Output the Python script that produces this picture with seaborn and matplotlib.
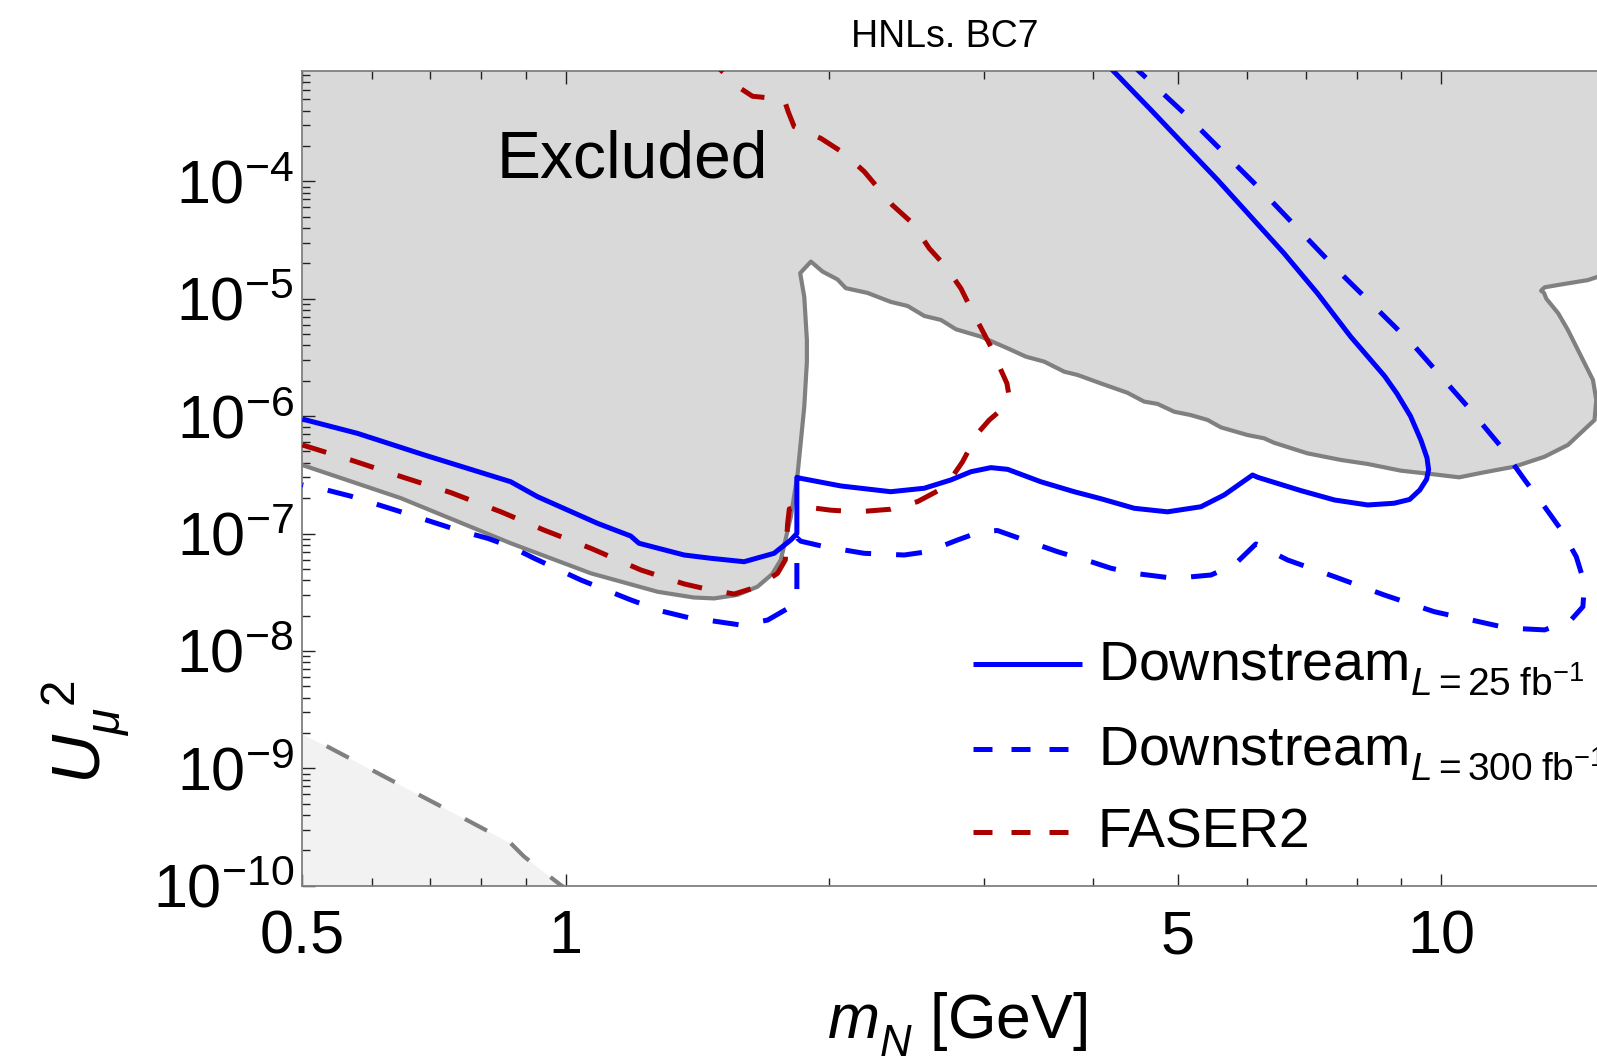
import numpy as np
import pandas as pd
import matplotlib
matplotlib.use("Agg")
import matplotlib.pyplot as plt
import seaborn as sns
from matplotlib.lines import Line2D
from matplotlib.ticker import FixedLocator, FixedFormatter, NullFormatter

# ---------------- data ----------------
# boundary of the excluded (grey) region
excl_x = [0.5, 0.648, 0.865, 1.068, 1.273, 1.40, 1.477, 1.57, 1.655, 1.72, 1.76, 1.807, 1.84,
          1.872, 1.885, 1.885, 1.872, 1.852, 1.905, 1.965, 2.043, 2.088, 2.211, 2.35, 2.457,
          2.567, 2.682, 2.79, 2.979, 3.196, 3.353, 3.519, 3.709, 3.842, 4.083, 4.38, 4.576,
          4.741, 4.953, 5.175, 5.41, 5.60, 6.005, 6.275, 6.44, 7.03, 7.68, 8.24, 8.99, 9.81,
          10.48, 11.19, 12.12, 13.12, 13.95, 14.96, 15.03, 14.9, 13.95, 13.6, 13.18, 13.1,
          13.0, 13.12, 13.6, 14.7, 15.1, 20.0]
excl_y = [3.83e-7, 2.0e-7, 8.26e-8, 4.58e-8, 3.19e-8, 2.85e-8, 2.8e-8, 3.0e-8, 3.52e-8,
          4.5e-8, 5.95e-8, 1.39e-7, 3.26e-7, 1.2e-6, 2.9e-6, 4.45e-6, 1.04e-5, 1.65e-5,
          2.07e-5, 1.70e-5, 1.46e-5, 1.23e-5, 1.12e-5, 9.4e-6, 8.67e-6, 7.13e-6, 6.59e-6,
          5.49e-6, 4.75e-6, 3.78e-6, 3.21e-6, 2.91e-6, 2.39e-6, 2.24e-6, 1.90e-6, 1.58e-6,
          1.33e-6, 1.27e-6, 1.09e-6, 1.02e-6, 9.26e-7, 8.02e-7, 6.9e-7, 6.47e-7, 5.93e-7,
          4.82e-7, 4.23e-7, 3.91e-7, 3.43e-7, 3.19e-7, 3.01e-7, 3.32e-7, 3.71e-7, 4.51e-7,
          5.68e-7, 9.26e-7, 1.37e-6, 2.03e-6, 5.41e-6, 7.5e-6, 1.0e-5, 1.12e-5, 1.17e-5,
          1.25e-5, 1.31e-5, 1.44e-5, 1.54e-5, 2.0e-5]

# Downstream, L = 25 fb^-1 (solid blue)
ds25_x = [0.5, 0.578, 0.689, 0.865, 0.928, 1.087, 1.186, 1.212, 1.365, 1.464, 1.598, 1.729,
          1.807, 1.836, 1.836, 1.855, 2.062, 2.35, 2.567, 2.753, 2.902, 3.058, 3.196, 3.487,
          3.807, 4.083, 4.459, 4.866, 5.313, 5.649, 5.902, 6.087, 6.17, 6.91, 7.55, 8.24,
          8.83, 9.2, 9.45, 9.62, 9.67, 9.63, 9.48, 9.22, 8.9, 8.61, 7.88, 7.22, 6.61, 6.06,
          5.55, 5.085, 4.66, 4.21, 4.1]
ds25_y = [9.44e-7, 7.13e-7, 4.67e-7, 2.76e-7, 2.06e-7, 1.22e-7, 9.52e-8, 8.26e-8, 6.56e-8,
          6.15e-8, 5.75e-8, 6.78e-8, 8.81e-8, 1.0e-7, 3.01e-7, 2.95e-7, 2.54e-7, 2.27e-7,
          2.43e-7, 2.86e-7, 3.36e-7, 3.64e-7, 3.52e-7, 2.76e-7, 2.27e-7, 1.98e-7, 1.64e-7,
          1.53e-7, 1.69e-7, 2.13e-7, 2.68e-7, 3.15e-7, 3.01e-7, 2.32e-7, 1.93e-7, 1.75e-7,
          1.81e-7, 1.95e-7, 2.35e-7, 2.9e-7, 3.5e-7, 4.4e-7, 6.2e-7, 1.0e-6, 1.55e-6, 2.2e-6,
          4.74e-6, 1.11e-5, 2.44e-5, 4.99e-5, 1.03e-4, 2.04e-4, 4.05e-4, 8.87e-4, 1.05e-3]

# Downstream, L = 300 fb^-1 (dashed blue)
ds300_x = [0.5, 0.534, 0.568, 0.648, 0.752, 0.814, 0.865, 0.92, 1.04, 1.186, 1.284, 1.389,
           1.464, 1.585, 1.70, 1.807, 1.836, 1.836, 1.855, 1.973, 2.192, 2.435, 2.589, 2.802,
           2.979, 3.112, 3.338, 3.644, 3.98, 4.194, 4.459, 4.953, 5.455, 5.8, 6.14, 6.673,
           7.55, 8.61, 9.81, 11.7, 12.02, 13.12, 14.06, 14.51, 14.57, 14.26, 13.71, 13.12,
           12.45, 11.7, 10.72, 9.3, 8.17, 7.61, 6.17, 5.087, 4.50, 4.4]
ds300_y = [2.6e-7, 2.34e-7, 2.08e-7, 1.53e-7, 1.07e-7, 9.1e-8, 7.73e-8, 6.15e-8, 4.02e-8,
           2.72e-8, 2.19e-8, 1.9e-8, 1.81e-8, 1.66e-8, 1.83e-8, 2.38e-8, 2.8e-8, 9.2e-8,
           8.6e-8, 7.73e-8, 6.78e-8, 6.56e-8, 7.0e-8, 8.81e-8, 1.04e-7, 1.06e-7, 8.81e-8,
           7.0e-8, 5.75e-8, 5.06e-8, 4.58e-8, 4.15e-8, 4.43e-8, 5.4e-8, 8.15e-8, 5.95e-8,
           4.29e-8, 2.99e-8, 2.16e-8, 1.61e-8, 1.56e-8, 1.51e-8, 1.83e-8, 2.38e-8, 3.77e-8,
           6.34e-8, 1.07e-7, 1.69e-7, 2.86e-7, 5.48e-7, 1.2e-6, 4.0e-6, 1.04e-5, 1.75e-5,
           9.0e-5, 3.79e-4, 8.87e-4, 1.05e-3]

# FASER2 (dashed dark red)
faser_x = [0.5, 0.568, 0.654, 0.739, 0.843, 0.944, 1.068, 1.218, 1.365, 1.451, 1.557, 1.655,
           1.745, 1.781, 1.792, 1.80, 1.872, 2.007, 2.154, 2.35, 2.522, 2.714, 2.839, 2.953,
           3.045, 3.15, 3.21, 3.19, 3.14, 3.058, 2.914, 2.827, 2.717, 2.60, 2.489, 2.36,
           2.192, 2.079, 1.956, 1.823, 1.795, 1.775, 1.70, 1.634, 1.577, 1.503, 1.47]
faser_y = [5.68e-7, 4.23e-7, 2.99e-7, 2.23e-7, 1.53e-7, 1.07e-7, 7.48e-8, 4.89e-8, 3.72e-8,
           3.35e-8, 3.05e-8, 3.52e-8, 4.58e-8, 5.95e-8, 1.22e-7, 1.62e-7, 1.69e-7, 1.58e-7,
           1.53e-7, 1.61e-7, 1.87e-7, 2.5e-7, 4.09e-7, 7.13e-7, 9.26e-7, 1.15e-6, 1.45e-6,
           1.9e-6, 2.47e-6, 3.9e-6, 7.74e-6, 1.22e-5, 1.87e-5, 2.69e-5, 4.39e-5, 6.28e-5,
           1.21e-4, 1.73e-4, 2.32e-4, 2.92e-4, 3.9e-4, 5.0e-4, 5.15e-4, 5.3e-4, 6.3e-4,
           8.87e-4, 1.05e-3]

# lower-left boundary (dashed grey, light fill below)
low_x = [0.5, 0.53, 0.631, 0.752, 0.865, 0.896, 0.987, 1.0]
low_y = [1.95e-9, 1.58e-9, 7.95e-10, 4.0e-10, 2.3e-10, 1.77e-10, 1.01e-10, 9.5e-11]

x_major = [0.5, 1, 5, 10]
x_major_labels = ["0.5", "1", "5", "10"]
x_minor = [0.6, 0.7, 0.8, 0.9, 2, 3, 4, 6, 7, 8, 9]
y_exponents = [-10, -9, -8, -7, -6, -5, -4]

legend_labels = [r"$\mathrm{Downstream}_{L=25\;\mathrm{fb}^{-1}}$",
                 r"$\mathrm{Downstream}_{L=300\;\mathrm{fb}^{-1}}$",
                 "FASER2"]

# ---------------- style ----------------
sns.set_theme(style="ticks")
plt.rcParams["font.family"] = ["Liberation Sans", "DejaVu Sans"]
plt.rcParams["mathtext.fontset"] = "custom"
plt.rcParams["mathtext.rm"] = "Liberation Sans"
plt.rcParams["mathtext.it"] = "Liberation Sans:italic"
plt.rcParams["mathtext.bf"] = "Liberation Sans:bold"
plt.rcParams["mathtext.sf"] = "Liberation Sans"
for key in ["text.color", "axes.labelcolor", "xtick.labelcolor", "ytick.labelcolor"]:
    plt.rcParams[key] = "black"

# lower the subscripts a little (Mathematica places them lower than mathtext)
try:
    import matplotlib._mathtext as _mt
    _mt.FontConstantsBase.sub1 = 0.55
except Exception:
    pass

BLUE = "#0000ff"
RED = "#aa0000"
GREY = "#808080"
FILL = "#d9d9d9"
LIGHT = "#f2f2f2"

W, H = 1597, 1059
fig = plt.figure(figsize=(W / 100, H / 100), dpi=100)
ax_left, ax_bottom = 302.3 / W, 1 - 885.7 / H
ax_h = (885.7 - 70.6) / H
ax_w = (np.log10(20 / 0.5) * 875.5) / W
ax = fig.add_axes([ax_left, ax_bottom, ax_w, ax_h])
ax.set_xscale("log")
ax.set_yscale("log")
XMAX, YMAX = 20.0, 8.77e-4
ax.set_xlim(0.5, XMAX)
ax.set_ylim(1e-10, YMAX)
ax.set_facecolor("white")

# fills
ax.fill(excl_x + [XMAX * 1.5, XMAX * 1.5, 0.5], excl_y + [2.0e-5, 1e-2, 1e-2],
        color=FILL, lw=0, zorder=0.5)
ax.fill_between(low_x, 1e-12, low_y, color=LIGHT, lw=0, zorder=0.5)

lw_main = 3.6


def draw(xs, ys, color, lw, dashes=None, offset=0, z=2):
    sns.lineplot(x=xs, y=ys, sort=False, estimator=None, color=color, lw=lw, ax=ax,
                 zorder=z, legend=False)
    line = ax.lines[-1]
    line.set_solid_capstyle("butt")
    line.set_dash_capstyle("butt")
    line.set_solid_joinstyle("round")
    if dashes is not None:
        line.set_linestyle((offset, dashes))
    return line


draw(excl_x, excl_y, GREY, 3.0, z=2)
draw(low_x, low_y, GREY, 3.0, dashes=(6.0, 6.5), offset=6.0, z=2)
draw(faser_x, faser_y, RED, lw_main, dashes=(5.0, 5.0), offset=0, z=3)
draw(ds300_x, ds300_y, BLUE, lw_main, dashes=(5.2, 5.0), offset=5.0, z=3)
draw(ds25_x, ds25_y, BLUE, lw_main, z=4)

# ticks
for sp in ax.spines.values():
    sp.set_color(GREY)
    sp.set_linewidth(1.3)
ax.spines["right"].set_visible(False)

ax.xaxis.set_major_locator(FixedLocator(x_major))
ax.xaxis.set_major_formatter(FixedFormatter(x_major_labels))
ax.xaxis.set_minor_locator(FixedLocator(x_minor))
ax.xaxis.set_minor_formatter(NullFormatter())

y_major = [10.0 ** e for e in y_exponents]
y_minor = [m * 10.0 ** e for e in y_exponents for m in range(2, 10)]
ax.yaxis.set_major_locator(FixedLocator(y_major))
ax.yaxis.set_major_formatter(FixedFormatter([r"$10^{%d}$" % e for e in y_exponents]))
ax.yaxis.set_minor_locator(FixedLocator(y_minor))
ax.yaxis.set_minor_formatter(NullFormatter())

ax.tick_params(axis="both", which="both", direction="in", colors="#222222",
               labelcolor="black")
ax.tick_params(axis="x", which="both", top=True, bottom=True)
ax.tick_params(axis="y", which="both", left=True, right=False)
ax.tick_params(which="major", length=9, width=1.0)
ax.tick_params(which="minor", length=6, width=1.0)
ax.tick_params(axis="x", which="major", labelsize=44, pad=17)
ax.tick_params(axis="y", which="major", labelsize=44, pad=6)

# texts
ax.text(0.834, 1.07e-4, "Excluded", fontsize=47.5, ha="left", va="baseline", zorder=5,
        color="black")
fig.text(945 / W, 1 - 37 / H, "HNLs. BC7", fontsize=27, ha="center", va="center",
         color="black")
fig.text(827 / W, 1 - 1039 / H, r"$m_N$ [GeV]", fontsize=45, ha="left", va="baseline",
         color="black")
fig.text(86 / W, 1 - 732 / H, r"$U_{\mu}{}^{2}$", fontsize=49, ha="center", va="center",
         rotation=90, color="black")

# legend (drawn entry by entry so that the rows are evenly spaced as in the reference)
leg_styles = [dict(color=BLUE, linestyle="-"),
              dict(color=BLUE, linestyle=(0, (3.8, 3.8))),
              dict(color=RED, linestyle=(0, (3.8, 3.8)))]
row_line_y = [664, 749, 832]          # pixel rows of the legend samples
x0, x1, xt = 973, 1082, 1098
for label, style, yl in zip(legend_labels, leg_styles, row_line_y):
    ln = Line2D([x0 / W, x1 / W], [1 - yl / H, 1 - yl / H], transform=fig.transFigure,
                lw=lw_main, dash_capstyle="butt", solid_capstyle="butt", **style)
    fig.add_artist(ln)
    fig.text(xt / W, 1 - (yl + 16) / H, label, fontsize=40, ha="left", va="baseline",
             color="black")

fig.savefig("out.png", dpi=100)
